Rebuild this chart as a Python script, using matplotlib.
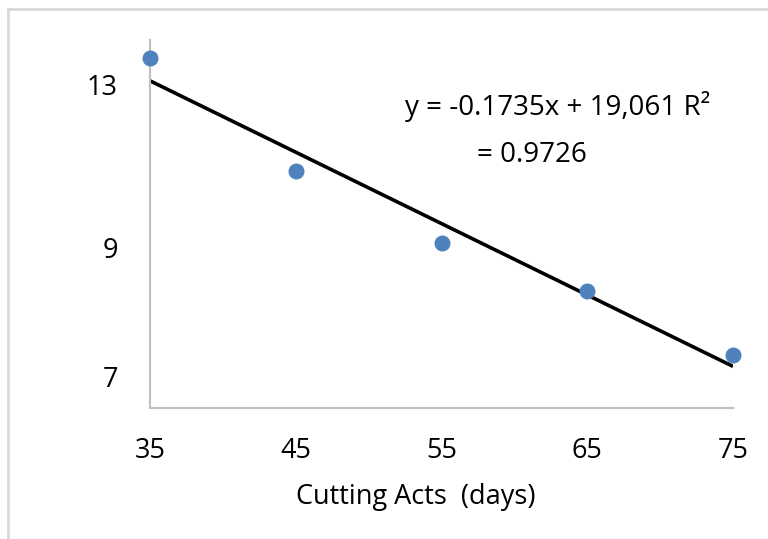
import numpy as np
import matplotlib.pyplot as plt
from matplotlib.lines import Line2D

# cutting acts (days) vs measured value
days = [35, 45, 55, 65, 75]
values = [13.64, 10.87, 9.10, 7.93, 6.36]

ytick_vals = [13, 9, 5.84]
ytick_labels = ['13', '9', '7']
xtick_vals = [35, 45, 55, 65, 75]

eq_line1 = 'y = -0.1735x + 19,061 R²'
eq_line2 = '= 0.9726'
xlabel = 'Cutting Acts  (days)'

plt.rcParams['font.family'] = ['Open Sans', 'DejaVu Sans']

W, H = 768, 539
fig = plt.figure(figsize=(W / 100, H / 100), dpi=100)
ax = fig.add_axes([150 / W, 1 - 408 / H, (733 - 150) / W, (408 - 40) / H])

x = np.array(days)
y = np.array(values)
ax.scatter(x, y, s=110, color='#4f81bd', zorder=3, clip_on=False)

k, b = np.polyfit(x, y, 1)
xs = np.array([min(days), max(days)])
ax.plot(xs, k * xs + b, color='black', lw=2.6, zorder=2, solid_capstyle='butt')

ax.set_xlim(35, 75)
ax.set_ylim(5.06, 14.08)
ax.set_xticks(xtick_vals)
ax.set_yticks(ytick_vals)
ax.set_yticklabels(ytick_labels)
ax.tick_params(axis='both', length=0, labelsize=19.5)
ax.tick_params(axis='x', pad=21)
ax.tick_params(axis='y', pad=23)

for s in ['top', 'right']:
    ax.spines[s].set_visible(False)
for s in ['left', 'bottom']:
    ax.spines[s].set_color('#c0c0c0')
    ax.spines[s].set_linewidth(1.5)

fig.text(416 / W, 1 - 497 / H, xlabel, ha='center', va='center', fontsize=19.5)
fig.text(405 / W, 1 - 107 / H, eq_line1, ha='left', va='center', fontsize=20)
fig.text(477 / W, 1 - 155 / H, eq_line2, ha='left', va='center', fontsize=20)

# outer chart border
fig.add_artist(Line2D([8 / W, 8 / W], [0, 1 - 9 / H], color='#d9d9d9', lw=2))
fig.add_artist(Line2D([8 / W, 1], [1 - 9 / H, 1 - 9 / H], color='#d9d9d9', lw=2))

fig.savefig('out.png', dpi=100)
